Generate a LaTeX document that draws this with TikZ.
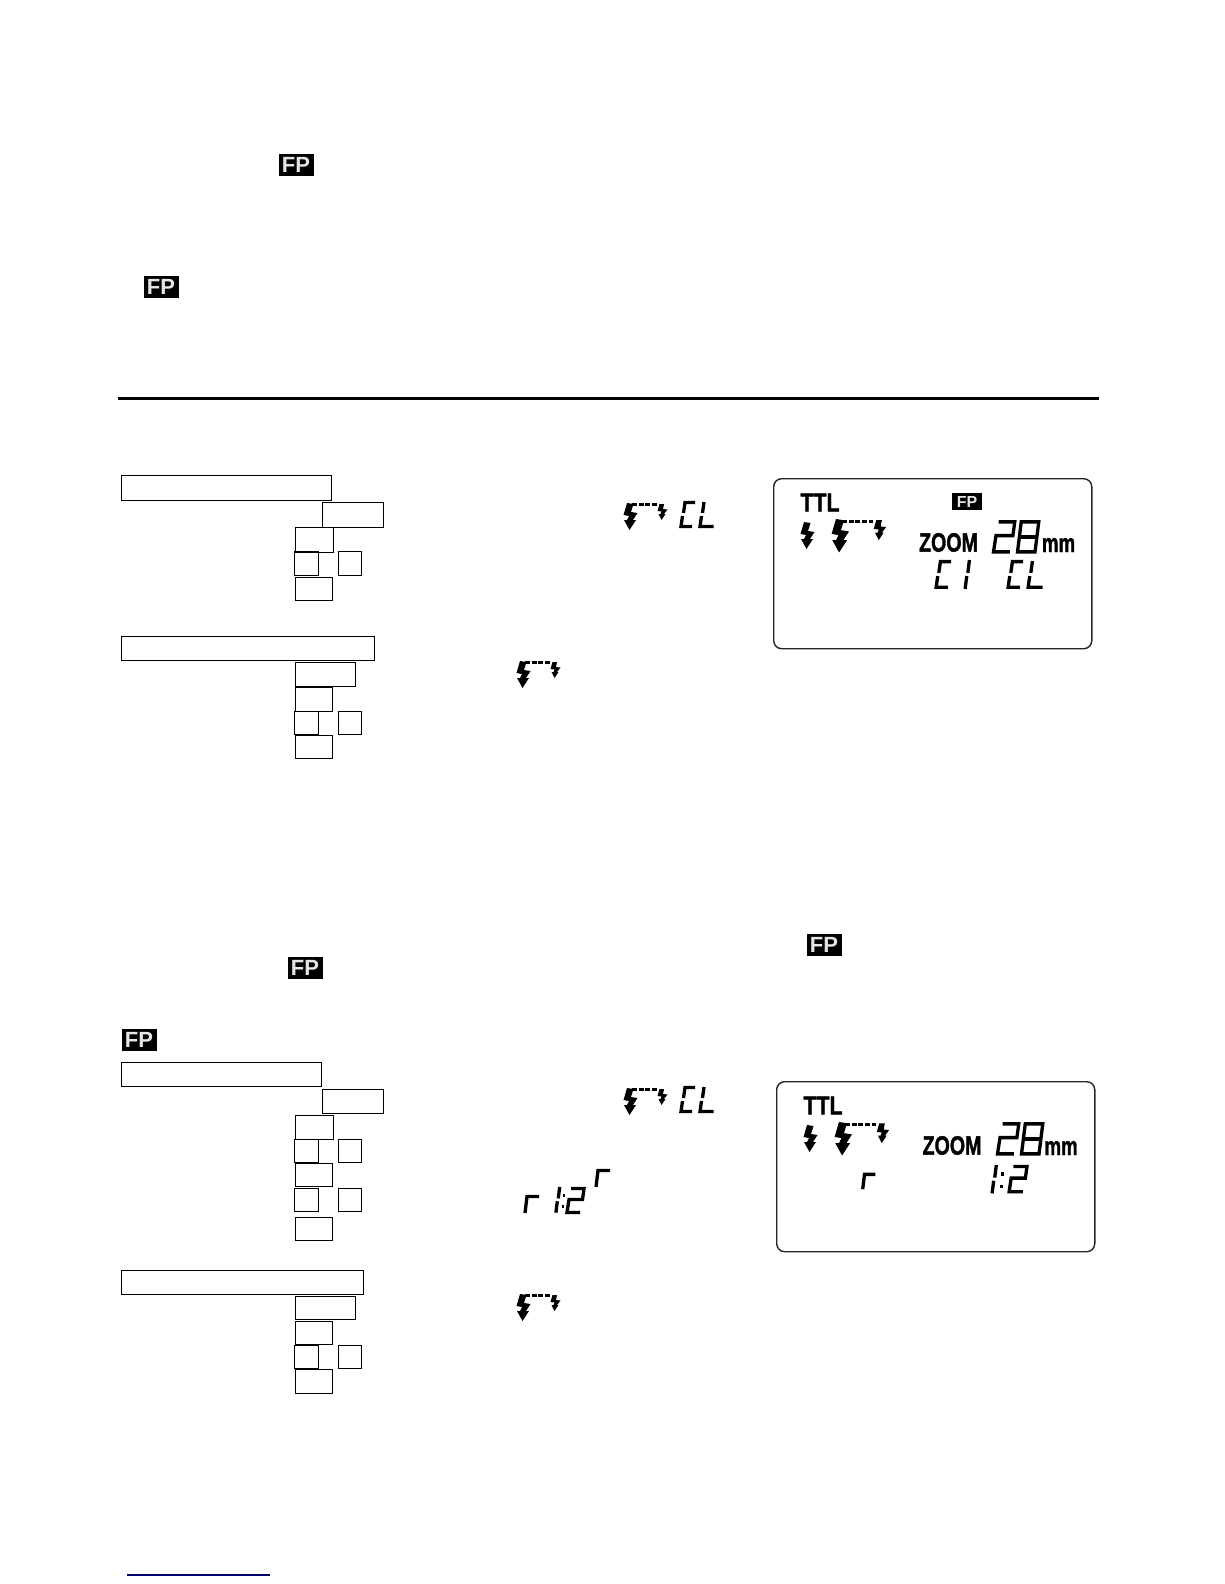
\documentclass[tikz,border=0pt]{standalone}
\usepackage{fontspec}
\setmainfont{Liberation Sans}
\newfontfamily\lcdfont[FakeBold=1.6]{Liberation Sans}[UprightFont=* Bold]
\usetikzlibrary{positioning}

\tikzset{
    lcdseg/.style={line width=3.3pt, line cap=butt, line join=miter},
    pics/lcdbolt/.style={code={
        \fill (4,0) -- (10.5,1) -- (8,9) -- (14.5,10) -- (10,17) -- (13,17) -- (6.5,27)
              -- (1,17) -- (4,17) -- (6,13) -- (0.5,12) -- cycle;}},
    pics/lcdlink/.style={code={
        \fill (4,0) -- (10.5,1) -- (8,9) -- (14.5,10) -- (10,17) -- (13,17) -- (6.5,27)
              -- (1,17) -- (4,17) -- (6,13) -- (0.5,12) -- cycle;
        \draw[line width=3pt, dash pattern=on 5pt off 1.6pt] (9,1.8) -- (34,1.8);
        \fill (36.5,1) -- (41,1) -- (40,6) -- (44.5,6.5) -- (41,11) -- (42.5,11) -- (38.5,17)
              -- (35.5,11) -- (37.5,11) -- (38.5,8.5) -- (34.5,8) -- cycle;}},
    pics/lcdC/.style={code={
        \draw[lcdseg] (16,1.5) -- (6,1.5) -- (4.5,12);
        \draw[lcdseg] (3.5,15) -- (2,25.5) -- (13,25.5);}},
    pics/lcdL/.style={code={
        \draw[lcdseg] (6,1) -- (4.5,12);
        \draw[lcdseg] (3.5,15) -- (2,25.5) -- (15.5,25.5);}},
    pics/lcdone/.style={code={
        \draw[lcdseg] (6,0) -- (4.5,12);
        \draw[lcdseg] (3.5,15) -- (2,27);}},
    pics/lcdtwo/.style={code={
        \draw[lcdseg] (6,1.5) -- (19,1.5) -- (17.5,12.5) -- (4,12.5) -- (2,25.5) -- (15,25.5);}},
    pics/lcdeight/.style={code={
        \draw[lcdseg] (5,1.5) -- (19,1.5) -- (16,25.5) -- (2,25.5) -- cycle;
        \draw[lcdseg] (3.5,13.5) -- (17.5,13.5);}},
    pics/lcdr/.style={code={
        \draw[lcdseg] (17,1.5) -- (5,1.5) -- (3,18);}},
    pics/lcdcolon/.style={code={
        \fill (1,7) rectangle (3.5,10);
        \fill (0,19) rectangle (2.5,22);}},
}

\begin{document}
\begin{tikzpicture}[
    x=1pt, y=-1pt,
    keybox/.style={draw, line width=1pt, inner sep=0pt, outer sep=0pt, anchor=north west,
                   minimum width=37pt, minimum height=24pt},
    leadbox/.style={keybox, minimum height=25pt},
    under/.style={below=#1, anchor=north west},
    narrowkey/.style={keybox, minimum width=24pt},
    sidekey/.style={keybox, minimum width=23pt, anchor=west},
    fpbadge/.style={fill=black, text=white!90!black, font=\bfseries\fontsize{22}{22}\selectfont,
                    inner sep=0pt, minimum width=35pt, minimum height=22pt},
    lcdpanel/.style={draw=black!85, line width=1.4pt, rounded corners=8pt, inner sep=0pt,
                     anchor=north west, minimum width=318pt, minimum height=170pt},
]
\useasboundingbox (0,0) rectangle (1224,1584);

% page rule and the link underline
\coordinate (ruleL) at (118,398);
\coordinate (ruleR) at (1099,398);
\draw[line width=3pt] (ruleL) -- (ruleR);
\coordinate (linkL) at (127,1575);
\coordinate (linkR) at (270,1575);
\draw[line width=1.5pt, blue!45!black] (linkL) -- (linkR);

% FP marks in the text
\node[fpbadge] (fpA) at (296,165) {FP};
\node[fpbadge] (fpB) at (161,287) {FP};
\node[fpbadge] (fpC) at (824,945) {FP};
\node[fpbadge] (fpD) at (305,968) {FP};
\node[fpbadge] (fpE) at (139,1040) {FP};

% first key group
\node[leadbox, minimum width=210pt] (headA) at (121,475) {};
\node[leadbox, minimum width=61pt] (menuA) at (322,502) {};
\node[leadbox, minimum width=38pt] (setA) at (295,527) {};
\node[narrowkey, under=-1pt of setA.south west, xshift=-1pt] (upA) {};
\node[sidekey, right=20pt of upA] (downA) {};
\node[keybox, minimum height=23pt] (okA) at (295,577) {};

\node[keybox, minimum width=253pt] (headB) at (121,636) {};
\node[keybox, minimum width=60pt] (menuB) at (295,662) {};
\node[keybox, under=1pt of menuB.south west] (setB) {};
\node[narrowkey, minimum height=23pt, under=0pt of setB.south west, xshift=-1pt] (upB) {};
\node[sidekey, minimum height=23pt, right=20pt of upB] (downB) {};
\node[keybox, minimum height=23pt] (okB) at (295,735) {};

% second key group
\node[keybox, minimum width=200pt] (headC) at (121,1062) {};
\node[keybox, minimum width=61pt] (menuC) at (322,1089) {};
\node[keybox, minimum width=38pt] (setC) at (295,1115) {};
\node[narrowkey, minimum height=23pt, under=0pt of setC.south west, xshift=-1pt] (upC) {};
\node[sidekey, minimum height=23pt, right=20pt of upC] (downC) {};
\node[keybox, minimum height=23pt] (setD) at (295,1163) {};
\node[narrowkey, minimum height=23pt, under=2pt of setD.south west, xshift=-1pt] (upD) {};
\node[sidekey, minimum height=23pt, right=20pt of upD] (downD) {};
\node[keybox, minimum height=23pt] (okC) at (295,1217) {};

\node[keybox, minimum width=242pt] (headD) at (121,1270) {};
\node[keybox, minimum width=60pt, minimum height=23pt] (menuD) at (295,1296) {};
\node[keybox, minimum height=23pt, under=2pt of menuD.south west] (setE) {};
\node[narrowkey, minimum height=23pt, under=1pt of setE.south west, xshift=-1pt] (upE) {};
\node[sidekey, minimum height=23pt, right=20pt of upE] (downE) {};
\node[keybox] (okD) at (295,1369) {};

% segment marks beside the keys
\pic at (623,503) {lcdlink};
\pic at (679,501) {lcdC};
\pic at (698,501) {lcdL};
\pic at (516,661) {lcdlink};
\pic at (623,1088) {lcdlink};
\pic at (679,1086) {lcdC};
\pic at (698,1086) {lcdL};
\pic at (522,1195) {lcdr};
\pic[scale=.95] at (554,1187) {lcdone};
\pic[scale=.95] at (562,1187) {lcdcolon};
\pic at (565,1187) {lcdtwo};
\pic at (593,1169) {lcdr};
\pic at (516,1294) {lcdlink};

% first display
\node[lcdpanel] (panelA) at (773,478) {};
\draw[line width=1.6pt, black!55] (panelA.north east) ++(0,8) -- ++(0,155);
\node[inner sep=0pt, font=\lcdfont\fontsize{26}{26}\selectfont, xscale=.82, transform shape] (ttlA) at (820,502.5) {TTL};
\pic at (800,522) {lcdbolt};
\pic[scale=1.24] at (831,519) {lcdlink};
\node[inner sep=0pt, font=\lcdfont\fontsize{26.5}{26.5}\selectfont, xscale=.74, transform shape] (zoomA) at (948.5,542.5) {ZOOM};
\pic[scale=1.25] at (991,520) {lcdtwo};
\pic[scale=1.25] at (1015,520) {lcdeight};
\node[inner sep=0pt, font=\lcdfont\fontsize{26}{26}\selectfont, xscale=.72, transform shape] (unitA) at (1058.5,545) {mm};
\pic[scale=1.07] at (934,560) {lcdC};
\pic[scale=1.07] at (963,560) {lcdone};
\pic[scale=1.07] at (1006,560) {lcdC};
\pic[scale=1.07] at (1026,560) {lcdL};
\node[fpbadge, minimum width=30pt, minimum height=17pt, font=\bfseries\fontsize{16}{16}\selectfont] (fpF) at (967,501.5) {FP};

% second display
\node[lcdpanel] (panelB) at (776,1081) {};
\draw[line width=1.6pt, black!55] (panelB.north east) ++(0,8) -- ++(0,155);
\node[inner sep=0pt, font=\lcdfont\fontsize{26}{26}\selectfont, xscale=.82, transform shape] (ttlB) at (823,1105.5) {TTL};
\pic at (803,1125) {lcdbolt};
\pic[scale=1.24] at (834,1122) {lcdlink};
\node[inner sep=0pt, font=\lcdfont\fontsize{26.5}{26.5}\selectfont, xscale=.74, transform shape] (zoomB) at (952,1145.5) {ZOOM};
\pic[scale=1.25] at (995,1122) {lcdtwo};
\pic[scale=1.25] at (1019,1122) {lcdeight};
\node[inner sep=0pt, font=\lcdfont\fontsize{26}{26}\selectfont, xscale=.72, transform shape] (unitB) at (1061,1148) {mm};
\pic[scale=.9] at (860,1173) {lcdr};
\pic[scale=1.05] at (990,1165) {lcdone};
\pic[scale=1.05] at (1000,1165) {lcdcolon};
\pic[scale=1.05] at (1007,1165) {lcdtwo};
\end{tikzpicture}
\end{document}
